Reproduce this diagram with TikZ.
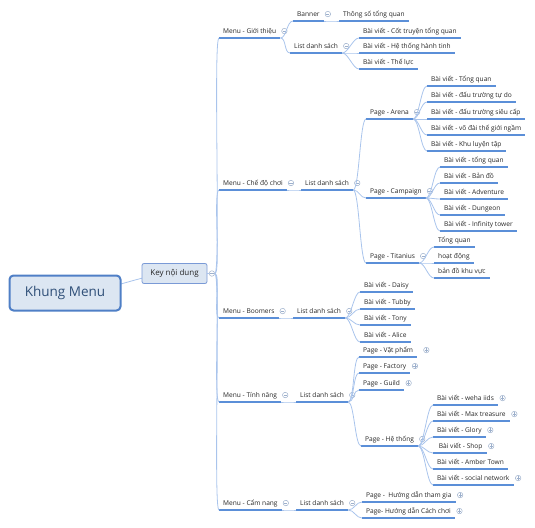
\documentclass[tikz,border=0pt]{standalone}
\usepackage{fontspec}
\setmainfont{Open Sans}
\usepackage{tikz}
\usetikzlibrary{positioning,backgrounds}

\definecolor{lineblue}{HTML}{5B8FD8}
\definecolor{linkblue}{HTML}{A9C4EC}
\definecolor{boxfill}{HTML}{DCE6F2}
\definecolor{rootedge}{HTML}{4F7FC6}
\definecolor{keyedge}{HTML}{7A9AD6}
\definecolor{foldgray}{HTML}{9DB0CC}
\definecolor{txtgray}{HTML}{262626}
\definecolor{roottxt}{HTML}{2F4F78}

\begin{document}
\begin{tikzpicture}[
  x=1pt, y=-1pt,
  rootbox/.style={draw=rootedge, line width=2pt, fill=boxfill, rounded corners=4pt, minimum width=111pt, minimum height=35pt, font=\fontsize{13.5}{15}\selectfont, text=roottxt},
  keybox/.style={draw=keyedge, line width=0.8pt, fill=boxfill, rounded corners=2pt, minimum width=65pt, minimum height=20pt, font=\fontsize{8}{9}\selectfont, text=txtgray},
  uline/.style={draw=lineblue, line width=1.2pt},
  topic/.style={anchor=south west, inner xsep=4pt, inner ysep=2.5pt, text height=6.5pt, text depth=2pt, font=\fontsize{6.6}{7}\selectfont, text=txtgray,
    append after command={(\tikzlastnode.south west) edge[uline] (\tikzlastnode.south east)}},
  link/.style={draw=linkblue, line width=0.8pt, to path={.. controls +(6,0) and +(-6,0) .. (\tikztotarget)}},
  foldbase/.style={circle, draw=foldgray, fill=white, line width=0.5pt, minimum size=5.5pt, inner sep=0pt},
  fold/.style={foldbase, path picture={\draw[foldgray, line width=0.5pt] ([xshift=-1.6pt]path picture bounding box.center) -- ([xshift=1.6pt]path picture bounding box.center);}},
  unfold/.style={foldbase, path picture={\draw[foldgray, line width=0.5pt] ([xshift=-1.6pt]path picture bounding box.center) -- ([xshift=1.6pt]path picture bounding box.center) ([yshift=-1.6pt]path picture bounding box.center) -- ([yshift=1.6pt]path picture bounding box.center);}}
]
  \useasboundingbox (0,0) rectangle (535,527);

  \node[rootbox] (root) at (65,293)    {Khung Menu};
  \node[keybox]  (key)  at (174.5,273.5) {Key nội dung};
  \node[fold, right=1.5pt of key] (keyf) {};

  % Menu - Giới thiệu
  \node[topic] (gt)     at (219,38)  {Menu - Giới thiệu};
  \node[fold, right=1pt of gt] (gtf) {};
  \node[topic] (banner) at (293,21)  {Banner};
  \node[fold, right=1pt of banner] (bannerf) {};
  \node[topic] (tsq)    at (339,21)  {Thông số tổng quan};
  \node[topic] (gtlist) at (290,53)  {List danh sách};
  \node[fold, right=1pt of gtlist] (gtlistf) {};
  \node[topic] (gt1)    at (359,38)  {Bài viết - Cốt truyện tổng quan};
  \node[topic] (gt2)    at (359,53)  {Bài viết - Hệ thống hành tinh};
  \node[topic] (gt3)    at (359,69)  {Bài viết - Thế lực};

  % Menu - Chế độ chơi
  \node[topic] (cd)     at (219,190) {Menu - Chế độ chơi};
  \node[fold, right=1pt of cd] (cdf) {};
  \node[topic] (cdlist) at (301,190) {List danh sách};
  \node[fold, right=1pt of cdlist] (cdlistf) {};
  \node[topic] (arena)  at (366,119) {Page - Arena};
  \node[fold, right=1pt of arena] (arenaf) {};
  \node[topic] (ar1)    at (427,86)  {Bài viết - Tổng quan};
  \node[topic] (ar2)    at (427,102) {Bài viết - đấu trường tự do};
  \node[topic] (ar3)    at (427,119) {Bài viết - đấu trường siêu cấp};
  \node[topic] (ar4)    at (427,135) {Bài viết - võ đài thế giới ngầm};
  \node[topic] (ar5)    at (427,151) {Bài viết - Khu luyện tập};
  \node[topic] (camp)   at (366,198) {Page - Campaign};
  \node[fold, right=1pt of camp] (campf) {};
  \node[topic] (ca1)    at (440,167) {Bài viết - tổng quan};
  \node[topic] (ca2)    at (440,183) {Bài viết - Bản đồ};
  \node[topic] (ca3)    at (440,199) {Bài viết - Adventure};
  \node[topic] (ca4)    at (440,215) {Bài viết - Dungeon};
  \node[topic] (ca5)    at (440,231) {Bài viết - Infinity tower};
  \node[topic] (titan)  at (366,263) {Page - Titanius};
  \node[fold, right=1pt of titan] (titanf) {};
  \node[topic] (ti1)    at (434,247) {Tổng quan};
  \node[topic] (ti2)    at (434,263) {hoạt động};
  \node[topic] (ti3)    at (434,278) {bản đồ khu vực};

  % Menu - Boomers
  \node[topic] (bm)     at (219,318) {Menu - Boomers};
  \node[fold, right=1pt of bm] (bmf) {};
  \node[topic] (bmlist) at (293,318) {List danh sách};
  \node[fold, right=1pt of bmlist] (bmlistf) {};
  \node[topic] (bm1)    at (360,292) {Bài viết - Daisy};
  \node[topic] (bm2)    at (360,309) {Bài viết - Tubby};
  \node[topic] (bm3)    at (360,325) {Bài viết - Tony};
  \node[topic] (bm4)    at (360,342) {Bài viết - Alice};

  % Menu - Tính năng
  \node[topic] (tn)     at (219,402) {Menu - Tính năng};
  \node[fold, right=1pt of tn] (tnf) {};
  \node[topic] (tnlist) at (296,402) {List danh sách};
  \node[fold, right=1pt of tnlist] (tnlistf) {};
  \node[topic] (vp)     at (359,357) {Page - Vật phẩm};
  \node[unfold, right=6pt of vp] (vpf) {};
  \node[topic] (fac)    at (359,373) {Page - Factory};
  \node[unfold, right=1.5pt of fac] (facf) {};
  \node[topic] (guild)  at (359,390) {Page - Guild};
  \node[unfold, right=1.5pt of guild] (guildf) {};
  \node[topic] (ht)     at (361,446) {Page - Hệ thống};
  \node[fold, right=1pt of ht] (htf) {};
  \node[topic] (ht1)    at (433,405) {Bài viết - weha iids};
  \node[unfold, right=1.5pt of ht1] (ht1f) {};
  \node[topic] (ht2)    at (433,421) {Bài viết - Max treasure};
  \node[unfold, right=1.5pt of ht2] (ht2f) {};
  \node[topic] (ht3)    at (433,437) {Bài viết - Glory};
  \node[unfold, right=1.5pt of ht3] (ht3f) {};
  \node[topic] (ht4)    at (433,453) {\ Bài viết - Shop};
  \node[unfold, right=1.5pt of ht4] (ht4f) {};
  \node[topic] (ht5)    at (433,469) {Bài viết - Amber Town};
  \node[topic] (ht6)    at (433,485) {Bài viết - social network};
  \node[unfold, right=1.5pt of ht6] (ht6f) {};

  % Menu - Cẩm nang
  \node[topic] (cn)     at (219,510) {Menu - Cẩm nang};
  \node[fold, right=1pt of cn] (cnf) {};
  \node[topic] (cnlist) at (296,510) {List danh sách};
  \node[fold, right=1pt of cnlist] (cnlistf) {};
  \node[topic] (cn1)    at (362,502) {Page - \ Hướng dẫn tham gia};
  \node[unfold, right=1.5pt of cn1] (cn1f) {};
  \node[topic] (cn2)    at (362,518) {Page- Hướng dẫn Cách chơi};
  \node[unfold, right=1.5pt of cn2] (cn2f) {};

  \begin{scope}[on background layer]
    \draw[link] (root.center) .. controls +(45,0) and +(-35,0) .. (key.center);
  \end{scope}
  \draw[link] (key) -- (keyf);

  \draw[link] (keyf.east) to (gt.south west);
  \draw[link] (keyf.east) to (cd.south west);
  \draw[link] (keyf.east) to (bm.south west);
  \draw[link] (keyf.east) to (tn.south west);
  \draw[link] (keyf.east) to (cn.south west);

  \draw[link] (gt.south east) to (banner.south west);
  \draw[link] (gt.south east) to (gtlist.south west);
  \draw[link] (banner.south east) to (tsq.south west);
  \draw[link] (gtlist.south east) to (gt1.south west);
  \draw[link] (gtlist.south east) to (gt2.south west);
  \draw[link] (gtlist.south east) to (gt3.south west);

  \draw[link] (cd.south east) to (cdlist.south west);
  \draw[link] (cdlist.south east) to (arena.south west);
  \draw[link] (cdlist.south east) to (camp.south west);
  \draw[link] (cdlist.south east) to (titan.south west);
  \draw[link] (arena.south east) to (ar1.south west);
  \draw[link] (arena.south east) to (ar2.south west);
  \draw[link] (arena.south east) to (ar3.south west);
  \draw[link] (arena.south east) to (ar4.south west);
  \draw[link] (arena.south east) to (ar5.south west);
  \draw[link] (camp.south east) to (ca1.south west);
  \draw[link] (camp.south east) to (ca2.south west);
  \draw[link] (camp.south east) to (ca3.south west);
  \draw[link] (camp.south east) to (ca4.south west);
  \draw[link] (camp.south east) to (ca5.south west);
  \draw[link] (titan.south east) to (ti1.south west);
  \draw[link] (titan.south east) to (ti2.south west);
  \draw[link] (titan.south east) to (ti3.south west);

  \draw[link] (bm.south east) to (bmlist.south west);
  \draw[link] (bmlist.south east) to (bm1.south west);
  \draw[link] (bmlist.south east) to (bm2.south west);
  \draw[link] (bmlist.south east) to (bm3.south west);
  \draw[link] (bmlist.south east) to (bm4.south west);

  \draw[link] (tn.south east) to (tnlist.south west);
  \draw[link] (tnlist.south east) to (vp.south west);
  \draw[link] (tnlist.south east) to (fac.south west);
  \draw[link] (tnlist.south east) to (guild.south west);
  \draw[link] (tnlist.south east) to (ht.south west);
  \draw[link] (ht.south east) to (ht1.south west);
  \draw[link] (ht.south east) to (ht2.south west);
  \draw[link] (ht.south east) to (ht3.south west);
  \draw[link] (ht.south east) to (ht4.south west);
  \draw[link] (ht.south east) to (ht5.south west);
  \draw[link] (ht.south east) to (ht6.south west);

  \draw[link] (cn.south east) to (cnlist.south west);
  \draw[link] (cnlist.south east) to (cn1.south west);
  \draw[link] (cnlist.south east) to (cn2.south west);
\end{tikzpicture}
\end{document}
